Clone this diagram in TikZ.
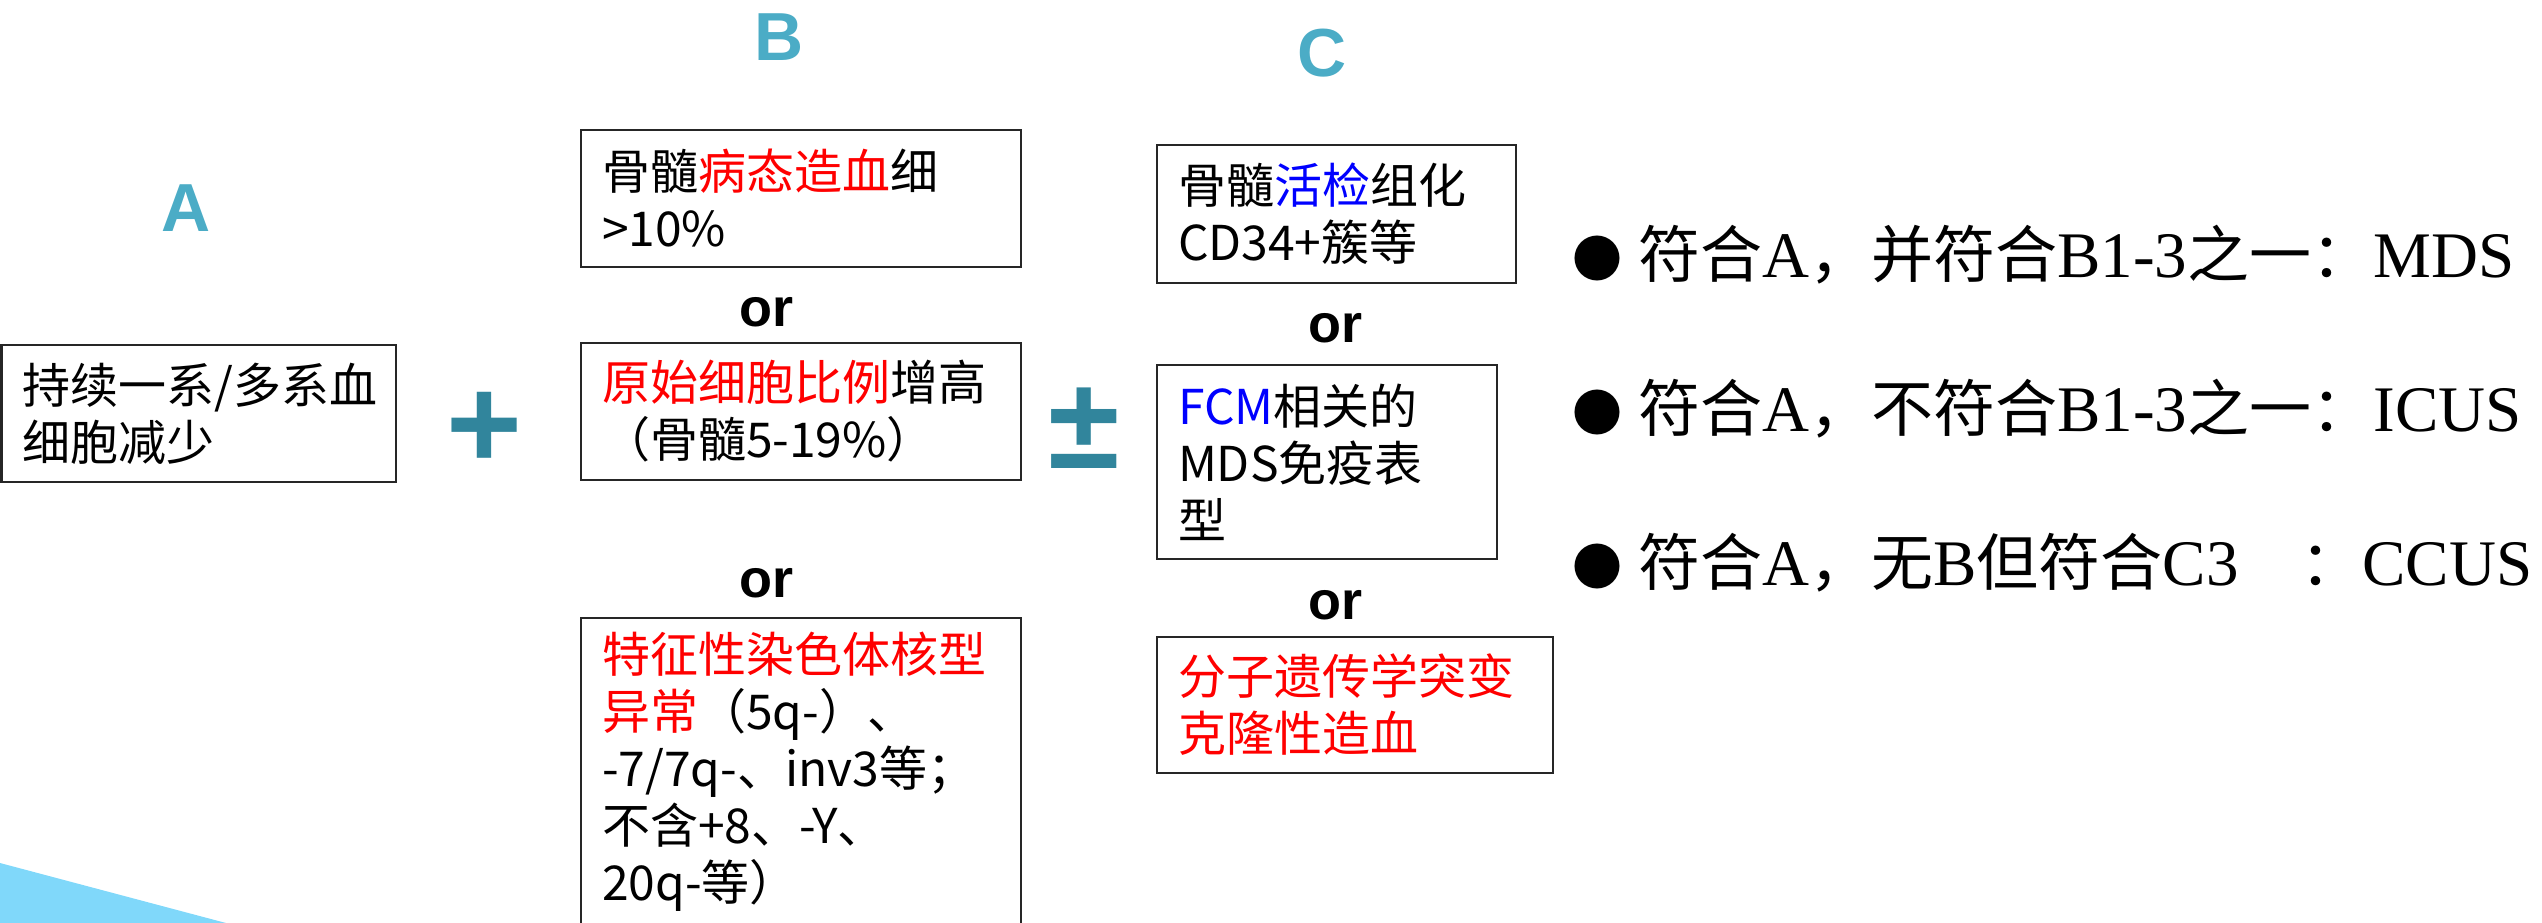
\documentclass[tikz,border=0pt]{standalone}
\usepackage{fontspec}
\setmainfont{Liberation Serif}
\newfontfamily\cjk{Noto Sans CJK SC}
\newfontfamily\hsans{Liberation Sans}
\definecolor{lettercol}{RGB}{75,172,198}
\definecolor{signcol}{RGB}{49,133,156}
\definecolor{wedgecol}{RGB}{128,216,250}
\definecolor{redt}{RGB}{255,0,0}
\definecolor{bluet}{RGB}{0,0,255}
\newcommand{\redtxt}[1]{\textcolor{redt}{#1}}
\newcommand{\bluetxt}[1]{\textcolor{bluet}{#1}}
\newcommand{\ck}[1]{{\cjk\fontsize{62}{64}\selectfont #1}}
\newcommand{\bul}{{\cjk\fontsize{50}{50}\selectfont ●}}
\begin{document}
\begin{tikzpicture}[x=1pt,y=-1pt,
  box/.style={draw=black!85, line width=2.6pt, inner xsep=21pt, inner ysep=0pt,
    align=left, font=\cjk\fontsize{48}{57}\selectfont},
  letter/.style={text=lettercol, inner sep=0pt, font=\hsans\bfseries\fontsize{68}{68}\selectfont},
  ortext/.style={inner sep=0pt, font=\hsans\bfseries\fontsize{54}{54}\selectfont},
  sign/.style={text=signcol, inner sep=0pt, font=\hsans\bfseries\fontsize{130}{130}\selectfont},
  result/.style={anchor=base west, inner sep=0pt, font=\fontsize{65}{65}\selectfont}
]
\useasboundingbox (0,0) rectangle (2542,923);
\clip (0,0) rectangle (2542,923);
\fill[wedgecol] (0,863) -- (226,923) -- (0,923) -- cycle;

\node[letter] (labA) at (186,208) {A};
\node[letter] (labB) at (779,37) {B};
\node[letter] (labC) at (1322,53) {C};

\node[box, text width=352.5pt, minimum height=137pt] (boxA) at (198.75,413.5) {持续一系/多系血\\细胞减少};

\node[sign] (plus) at (484.5,430.5) {+};

\node[box, text width=398pt, minimum height=137pt] (boxB1) at (801,198.5) {骨髓\redtxt{病态造血}细\\>10\%};
\node[ortext] (orB1) at (766,312) {or};
\node[box, text width=398pt, minimum height=137pt] (boxB2) at (801,411.5) {\redtxt{原始细胞比例}增高\\（骨髓5-19\%）};
\node[ortext] (orB2) at (766,583) {or};
\node[box, text width=398pt, minimum height=308pt] (boxB3) at (801,772) {\redtxt{特征性染色体核型}\\\redtxt{异常}（5q-）、\\-7/7q-、inv3等；\\不含+8、-Y、\\20q-等）};

\node[sign] (pm) at (1084,428.5) {±};

\node[box, text width=317pt, minimum height=138pt] (boxC1) at (1336.5,214) {骨髓\bluetxt{活检}组化\\CD34+簇等};
\node[ortext] (orC1) at (1335,328) {or};
\node[box, text width=298pt, minimum height=194pt] (boxC2) at (1327,462) {\bluetxt{FCM}相关的\\MDS免疫表\\型};
\node[ortext] (orC2) at (1335,605) {or};
\node[box, text width=354pt, minimum height=136pt] (boxC3) at (1355,705) {\redtxt{分子遗传学突变}\\\redtxt{克隆性造血}};

\node[result] (res1) at (1572,277) {\bul\ \ck{符合}A\ck{，并符合}B1-3\ck{之一：}MDS};
\node[result] (res2) at (1572,431) {\bul\ \ck{符合}A\ck{，不符合}B1-3\ck{之一：}ICUS};
\node[result] (res3) at (1572,585) {\bul\ \ck{符合}A\ck{，无}B\ck{但符合}C3\ck{　：}CCUS};
\end{tikzpicture}
\end{document}
